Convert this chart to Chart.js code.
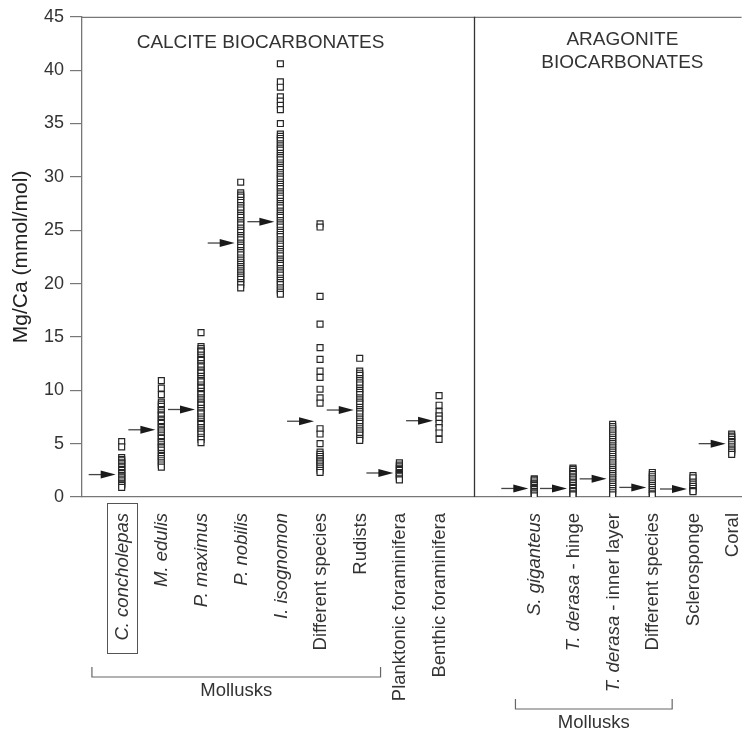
<!DOCTYPE html>
<html>
<head>
<meta charset="utf-8">
<script src="https://cdn.jsdelivr.net/npm/chart.js@4.4.1/dist/chart.umd.min.js"></script>
<style>
  html, body { margin: 0; padding: 0; background: #fff; }
  #wrap { width: 747px; height: 731px; }
</style>
</head>
<body>
<div id="wrap"><canvas id="mgChart" width="747" height="731"></canvas></div>
<script>
const FONT = '"Liberation Sans", Arial, Helvetica, sans-serif';

// category names, the italic (species) part of each, and x position on the axis
const categories = [
  'C. concholepas', 'M. edulis', 'P. maximus', 'P. nobilis', 'I. isognomon',
  'Different species', 'Rudists', 'Planktonic foraminifera', 'Benthic foraminifera',
  'S. giganteus', 'T. derasa - hinge', 'T. derasa - inner layer', 'Different species',
  'Sclerosponge', 'Coral'
];
const italicPart = [
  'C. concholepas', 'M. edulis', 'P. maximus', 'P. nobilis', 'I. isognomon',
  '', '', '', '',
  'S. giganteus', 'T. derasa', 'T. derasa', '', '', ''
];
const positions = [0, 1, 2, 3, 4, 5, 6, 7, 8, 10.4, 11.375, 12.375, 13.375, 14.4, 15.375];

// mean value (arrow) for each category
const means = [2.1, 6.3, 8.2, 23.8, 25.8, 7.1, 8.15, 2.25, 7.15, 0.8, 0.8, 1.7, 0.9, 0.75, 5.0];

// Mg/Ca measurements (mmol/mol)
const cConcholepas = [5.2, 4.7, 3.7, 3.5, 3.4, 3.2, 3.1, 2.9, 2.8, 2.6, 2.5, 2.3, 2.2, 2.0, 1.9, 1.8, 1.6, 1.5, 1.3, 1.2, 1.1, 0.9];
const mEdulis = [10.9, 10.2, 9.6, 8.9, 8.7, 8.5, 8.2, 8.1, 7.9, 7.7, 7.6, 7.3, 7.2, 7.0, 6.9, 6.6, 6.5, 6.3, 6.2, 6.0, 5.8, 5.6, 5.5, 5.2, 5.1, 4.9, 4.7, 4.6, 4.4, 4.1, 3.9, 3.8, 3.6, 3.4, 3.2, 3.0, 2.8];
const pMaximus = [15.4, 14.1, 13.9, 13.7, 13.6, 13.3, 13.1, 12.9, 12.8, 12.5, 12.3, 12.2, 11.9, 11.7, 11.6, 11.3, 11.1, 10.9, 10.8, 10.5, 10.3, 10.2, 9.9, 9.7, 9.6, 9.3, 9.1, 8.9, 8.7, 8.6, 8.3, 8.1, 7.9, 7.8, 7.5, 7.3, 7.1, 6.9, 6.8, 6.5, 6.3, 6.1, 5.9, 5.6, 5.4, 5.1];
const pNobilis = [29.5, 28.5, 28.3, 28.1, 27.8, 27.6, 27.3, 27.1, 26.9, 26.6, 26.4, 26.2, 25.9, 25.7, 25.5, 25.2, 25.0, 24.8, 24.5, 24.3, 24.1, 23.8, 23.6, 23.4, 23.1, 22.9, 22.7, 22.4, 22.2, 22.0, 21.8, 21.6, 21.4, 21.2, 21.0, 20.8, 20.6, 20.4, 20.1, 19.9, 19.6];
const iIsognomon = [40.6, 38.9, 38.4, 37.5, 37.1, 36.7, 36.3, 35.0, 34.0, 33.8, 33.6, 33.4, 33.1, 32.9, 32.7, 32.5, 32.2, 32.0, 31.8, 31.6, 31.3, 31.1, 30.9, 30.7, 30.4, 30.2, 30.0, 29.8, 29.5, 29.3, 29.1, 28.9, 28.6, 28.4, 28.2, 28.0, 27.7, 27.5, 27.3, 27.1, 26.8, 26.6, 26.4, 26.2, 25.9, 25.7, 25.5, 25.3, 25.0, 24.8, 24.6, 24.4, 24.1, 23.9, 23.7, 23.5, 23.2, 23.0, 22.8, 22.6, 22.3, 22.1, 21.9, 21.7, 21.4, 21.2, 21.0, 20.8, 20.5, 20.3, 20.1, 19.9, 19.6, 19.4, 19.2, 19.0];
const diffCalcite = [25.6, 25.3, 18.8, 16.2, 14.0, 12.9, 11.8, 11.2, 10.1, 9.3, 8.8, 6.4, 5.9, 5.0, 4.2, 4.0, 3.8, 3.6, 3.4, 3.3, 3.1, 2.9, 2.7, 2.5, 2.3];
const rudists = [13.0, 11.8, 11.6, 11.4, 11.1, 10.9, 10.7, 10.5, 10.2, 10.0, 9.8, 9.6, 9.3, 9.1, 8.9, 8.7, 8.4, 8.2, 8.0, 7.8, 7.5, 7.3, 7.1, 6.9, 6.6, 6.4, 6.2, 6.0, 5.8, 5.5, 5.3];
const planktonic = [3.2, 3.0, 2.9, 2.7, 2.6, 2.5, 2.3, 2.2, 2.1, 2.0, 1.9, 1.7, 1.6];
const benthic = [9.5, 8.6, 8.0, 7.6, 7.3, 6.9, 6.5, 6.0, 5.4];
const sGiganteus = [1.7, 1.6, 1.5, 1.3, 1.2, 1.1, 0.9, 0.8, 0.7, 0.5, 0.4, 0.3, 0.1];
const tDerasaHinge = [2.7, 2.6, 2.4, 2.2, 2.1, 1.9, 1.8, 1.6, 1.4, 1.3, 1.1, 0.9, 0.8, 0.6, 0.5, 0.3, 0.2];
const tDerasaInner = [6.8, 6.6, 6.4, 6.2, 6.0, 5.8, 5.6, 5.4, 5.2, 5.0, 4.8, 4.6, 4.4, 4.2, 4.0, 3.8, 3.6, 3.4, 3.2, 3.0, 2.8, 2.6, 2.4, 2.2, 2.0, 1.8, 1.6, 1.4, 1.2, 1.0, 0.8, 0.6, 0.4, 0.2];
const diffAragonite = [2.3, 2.1, 1.9, 1.7, 1.5, 1.3, 1.1, 0.9, 0.7, 0.5, 0.3, 0.2];
const sclerosponge = [2.0, 1.8, 1.4, 1.2, 1.0, 0.8, 0.6, 0.5];
const coral = [5.9, 5.7, 5.6, 5.4, 5.2, 5.1, 4.9, 4.7, 4.5, 4.4, 4.2, 4.0];

const seriesValues = [
  cConcholepas, mEdulis, pMaximus, pNobilis, iIsognomon, diffCalcite, rudists,
  planktonic, benthic, sGiganteus, tDerasaHinge, tDerasaInner, diffAragonite,
  sclerosponge, coral
];

// group brackets under the labels: [from, to] in axis units
const groups = [
  { label: 'Mollusks', from: -0.75, to: 6.525, y: 677 },
  { label: 'Mollusks', from: 9.925, to: 13.875, y: 709 }
];
const dividerAt = 8.875;

const datasets = seriesValues.map((vals, i) => ({
  label: categories[i],
  data: vals.map(v => ({ x: positions[i], y: v })),
  pointStyle: 'rect',
  pointRadius: 4.2,
  pointBorderWidth: 1.2,
  pointBorderColor: '#262626',
  pointBackgroundColor: '#ffffff',
  showLine: false
}));

const decorations = {
  id: 'decorations',
  afterDatasetsDraw(chart) {
    const { ctx, chartArea } = chart;
    const xs = chart.scales.x, ys = chart.scales.y;
    ctx.save();

    // top frame line and the calcite / aragonite divider
    ctx.strokeStyle = '#777';
    ctx.lineWidth = 1.3;
    ctx.beginPath();
    ctx.moveTo(chartArea.left, chartArea.top + 0.5);
    ctx.lineTo(chartArea.right, chartArea.top + 0.5);
    ctx.stroke();
    const dx = Math.round(xs.getPixelForValue(dividerAt)) + 0.5;
    ctx.strokeStyle = '#333';
    ctx.beginPath();
    ctx.moveTo(dx, chartArea.top);
    ctx.lineTo(dx, chartArea.bottom);
    ctx.stroke();

    // mean arrows
    means.forEach((m, i) => {
      const px = xs.getPixelForValue(positions[i]);
      const py = ys.getPixelForValue(m);
      ctx.strokeStyle = '#444';
      ctx.lineWidth = 1.3;
      ctx.beginPath();
      ctx.moveTo(px - 33, py);
      ctx.lineTo(px - 18, py);
      ctx.stroke();
      ctx.fillStyle = '#1a1a1a';
      ctx.beginPath();
      ctx.moveTo(px - 21, py - 4);
      ctx.lineTo(px - 6, py);
      ctx.lineTo(px - 21, py + 4);
      ctx.closePath();
      ctx.fill();
    });

    // panel titles
    ctx.fillStyle = '#333';
    ctx.font = '19px ' + FONT;
    ctx.textAlign = 'center';
    ctx.textBaseline = 'middle';
    ctx.fillText('CALCITE BIOCARBONATES', xs.getPixelForValue(3.5), chartArea.top + 26);
    ctx.fillText('ARAGONITE', xs.getPixelForValue(12.62), chartArea.top + 23);
    ctx.fillText('BIOCARBONATES', xs.getPixelForValue(12.62), chartArea.top + 46);

    // rotated category labels, species names in italics
    const labelTop = chartArea.bottom + 16;
    categories.forEach((name, i) => {
      const px = xs.getPixelForValue(positions[i]);
      const it = italicPart[i];
      const rest = name.slice(it.length);
      ctx.save();
      ctx.translate(px, labelTop);
      ctx.rotate(-Math.PI / 2);
      ctx.textAlign = 'left';
      ctx.textBaseline = 'middle';
      ctx.font = 'italic 18.5px ' + FONT;
      const wi = it ? ctx.measureText(it).width : 0;
      ctx.font = '18.5px ' + FONT;
      const wr = rest ? ctx.measureText(rest).width : 0;
      let cx = -(wi + wr);
      if (it) {
        ctx.font = 'italic 18.5px ' + FONT;
        ctx.fillText(it, cx, 1);
        cx += wi;
      }
      if (rest) {
        ctx.font = '18.5px ' + FONT;
        ctx.fillText(rest, cx, 1);
      }
      ctx.restore();
    });

    // box round the first label
    const bx = xs.getPixelForValue(positions[0]);
    ctx.strokeStyle = '#555';
    ctx.lineWidth = 1;
    ctx.strokeRect(Math.round(bx - 15) + 0.5, chartArea.bottom + 6.5, 30, 150);

    // group brackets
    ctx.strokeStyle = '#666';
    ctx.lineWidth = 1.2;
    ctx.font = '18.5px ' + FONT;
    ctx.fillStyle = '#333';
    ctx.textAlign = 'center';
    ctx.textBaseline = 'top';
    groups.forEach(g => {
      const x1 = xs.getPixelForValue(g.from), x2 = xs.getPixelForValue(g.to);
      ctx.beginPath();
      ctx.moveTo(x1, g.y - 10);
      ctx.lineTo(x1, g.y);
      ctx.lineTo(x2, g.y);
      ctx.lineTo(x2, g.y - 10);
      ctx.stroke();
      ctx.fillText(g.label, (x1 + x2) / 2, g.y + 5);
    });

    ctx.restore();
  }
};

new Chart(document.getElementById('mgChart'), {
  type: 'scatter',
  data: { datasets },
  options: {
    responsive: false,
    animation: false,
    layout: { padding: { top: 15, right: 0, bottom: 234, left: 0 } },
    plugins: { legend: { display: false }, tooltip: { enabled: false } },
    scales: {
      x: {
        type: 'linear',
        min: -1,
        max: 15.625,
        ticks: { display: false },
        grid: { display: false, drawTicks: false },
        border: { display: true, color: '#777', width: 1.3 }
      },
      y: {
        min: 0,
        max: 45,
        ticks: { stepSize: 5, color: '#333', padding: 6, font: { size: 18, family: FONT } },
        grid: { drawOnChartArea: false, tickLength: 12, color: '#777', lineWidth: 1.2 },
        border: { color: '#777', width: 1.3 },
        title: {
          display: true,
          text: 'Mg/Ca (mmol/mol)',
          color: '#222',
          font: { size: 21, family: FONT },
          padding: { top: 9, bottom: 0 }
        },
        afterFit(scale) { scale.width = 82; }
      }
    }
  },
  plugins: [decorations]
});
</script>
</body>
</html>
